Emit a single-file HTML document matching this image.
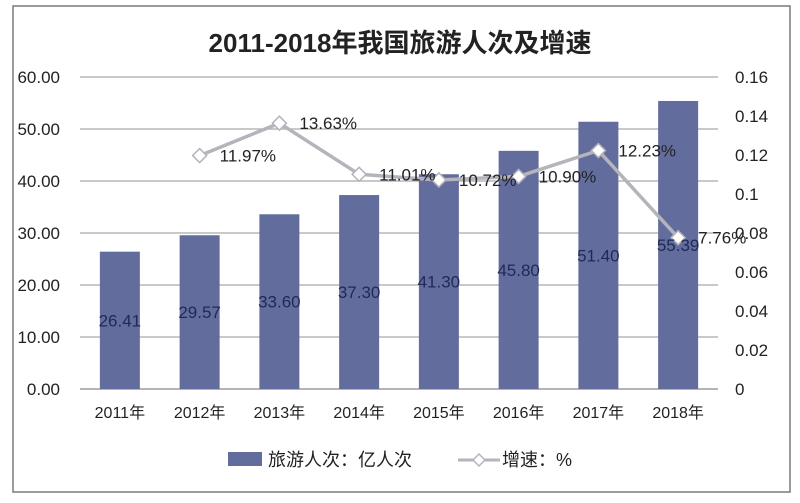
<!DOCTYPE html>
<html><head><meta charset="utf-8"><style>
body{margin:0;background:#fff;}
svg text{font-family:"Liberation Sans","Noto Sans CJK SC",sans-serif;}
</style></head><body>
<svg id="chart" width="800" height="498" xmlns="http://www.w3.org/2000/svg">
<rect x="13" y="6" width="777" height="486" fill="#fff" stroke="#7a7a7a" stroke-width="1.5"/>
<text x="400" y="52" text-anchor="middle" font-size="26" font-weight="bold" fill="#222">2011-2018年我国旅游人次及增速</text>
<g id="grid"></g><g id="bars"></g><g id="line"></g><g id="labels"></g>
<g>
<rect x="228" y="452" width="34" height="14" fill="#636d9d"/>
<text x="268" y="466" font-size="18" fill="#222">旅游人次：亿人次</text>
<line x1="458" y1="460" x2="500" y2="460" stroke="#b5b3bb" stroke-width="3"/>
<path d="M479 454 L485 460 L479 466 L473 460 Z" fill="#fff" stroke="#b5b3bb" stroke-width="1.5"/>
<text x="502" y="466" font-size="18" fill="#222">增速：%</text>
</g>
</svg>
<script>
const categories=["2011年","2012年","2013年","2014年","2015年","2016年","2017年","2018年"];
const visitors=[26.41,29.57,33.60,37.30,41.30,45.80,51.40,55.39];
const growth=[null,0.1197,0.1363,0.1101,0.1072,0.1090,0.1223,0.0776];
const growthLabels=["","11.97%","13.63%","11.01%","10.72%","10.90%","12.23%","7.76%"];
const leftTicks=[0,10,20,30,40,50,60];
const leftTickLabels=["0.00","10.00","20.00","30.00","40.00","50.00","60.00"];
const rightTicks=[0,0.02,0.04,0.06,0.08,0.1,0.12,0.14,0.16];
const rightTickLabels=["0","0.02","0.04","0.06","0.08","0.1","0.12","0.14","0.16"];

const X0=80,X1=718,Y0=389,Y1=77;
const band=(X1-X0)/categories.length;
const xc=i=>X0+band*(i+0.5);
const yL=v=>Y0-(v/60)*(Y0-Y1);
const yR=v=>Y0-(v/0.16)*(Y0-Y1);
const NS="http://www.w3.org/2000/svg";
function mk(tag,attrs,parent,txt){const e=document.createElementNS(NS,tag);for(const k in attrs)e.setAttribute(k,attrs[k]);if(txt!==undefined)e.textContent=txt;document.getElementById(parent).appendChild(e);return e;}

leftTicks.forEach((t,i)=>{
  const g=mk('line',{x1:X0,x2:X1,y1:yL(t),y2:yL(t),stroke:t===0?'#888':'#a9a9a9','stroke-width':1.3},'grid');
  
  
  const l=mk('text',{x:60,y:yL(t)+6,'font-size':17,'text-anchor':'end',fill:'#222'},'grid',leftTickLabels[i]);
  
  
});
rightTicks.forEach((t,i)=>{
  const l=mk('text',{x:735,y:yR(t)+6,'font-size':17,fill:'#222'},'grid',rightTickLabels[i]);
  
  
});
categories.forEach((c,i)=>{
  const l=mk('text',{x:xc(i),y:418,'font-size':16,'text-anchor':'middle',fill:'#222'},'grid',c);
  
  
});
visitors.forEach((v,i)=>{
  const b=mk('rect',{x:xc(i)-20,y:yL(v),width:40,height:Y0-yL(v),fill:'#636d9d'},'bars');
  
  
  const l=mk('text',{x:xc(i),y:(yL(v)+Y0)/2+6,'font-size':17,'text-anchor':'middle',fill:'#1e2a55'},'labels',v.toFixed(2));
  
  
});
let pts=[];
growth.forEach((g,i)=>{if(g!==null)pts.push([xc(i),yR(g),i]);});
const pl=mk('polyline',{points:pts.map(p=>p[0]+','+p[1]).join(' '),fill:'none',stroke:'#b5b3bb','stroke-width':3.5},'line');


pts.forEach(p=>{
  const [x,y,i]=p;
  const m=mk('path',{d:`M${x} ${y-7} L${x+7} ${y} L${x} ${y+7} L${x-7} ${y} Z`,fill:'#fff',stroke:'#b5b3bb','stroke-width':1.5},'line');
  
  
  const l=mk('text',{x:x+20,y:y+6,'font-size':17,fill:'#222'},'labels',growthLabels[i]);
  
  
});
</script>
</body></html>
